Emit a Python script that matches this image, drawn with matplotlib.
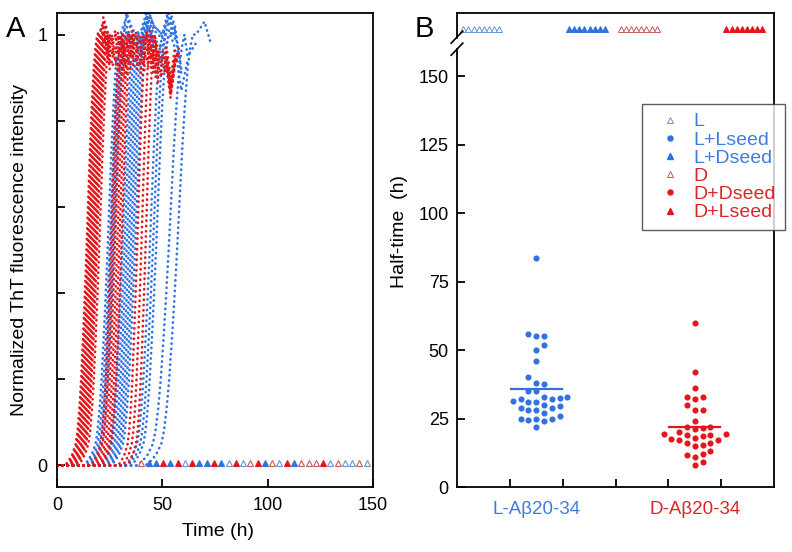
import numpy as np
import matplotlib
matplotlib.use('Agg')
import matplotlib.pyplot as plt
from matplotlib.lines import Line2D

plt.rcParams['font.family'] = ['Liberation Sans', 'DejaVu Sans']

BLUE = '#2f72e0'
RED = '#e3161c'
BLUE_OPEN = '#6b93d6'
RED_OPEN = '#c65b5b'
BLUE_TXT = '#3d7ddf'
RED_TXT = '#d9262b'

# ---------------- Panel A data ----------------
# shared aggregation profile: relative time (in units of curve width) vs fraction
profile_rel = [-6.0, -5.0, -4.0, -3.0, -2.5, -2.0, -1.5, -1.0, -0.5, 0.0, 0.5, 1.0, 1.5, 2.0, 2.5, 3.0]
profile_frac = [0.0, 0.01, 0.025, 0.05, 0.08, 0.13, 0.2, 0.29, 0.39, 0.5, 0.62, 0.74, 0.84, 0.92, 0.97, 1.0]

red_halftimes = [14, 14.5, 15, 15.5, 16, 16.5, 17, 17.5, 18, 18.5, 19, 20,
                 25.5, 26.5, 27.5, 28.5, 29.5, 30.5, 38, 40, 42]
red_widths = [1.7, 1.7, 1.7, 1.7, 1.7, 1.7, 1.7, 1.7, 1.7, 1.7, 1.7, 1.7,
              1.6, 1.6, 1.6, 1.6, 1.6, 1.6, 1.5, 1.5, 1.5]
red_ends = [50, 55, 45, 58, 52, 48, 56, 44, 53, 47, 57, 51,
            46, 54, 49, 58, 52, 56, 55, 57, 58]
red_shift = [0.0, -0.02, 0.01, -0.04, -0.01, 0.02, -0.03, 0.0, -0.05, 0.01, -0.02, -0.06,
             0.0, -0.03, 0.01, -0.04, -0.01, -0.02, -0.05, 0.0, -0.03]
red_plateau_t = [22, 25, 28, 32, 36, 40, 44, 48, 52, 54, 56, 58]
red_plateau_y = [1.02, 0.97, 0.99, 0.96, 0.99, 0.97, 0.99, 0.95, 0.97, 0.9, 0.97, 1.0]

blue_halftimes = [24, 25, 26, 27, 31, 32, 33, 34, 35, 36, 37, 44, 45.5, 47, 53, 57]
blue_widths = [1.9, 1.9, 1.9, 1.9, 1.9, 1.9, 1.9, 1.9, 1.9, 1.9, 1.9, 2.0, 2.0, 2.0, 2.5, 2.5]
blue_ends = [40, 48, 44, 52, 50, 56, 46, 54, 58, 52, 60, 56, 62, 60, 66, 73]
blue_shift = [0.0, -0.02, 0.01, -0.03, 0.02, -0.01, 0.0, -0.04, 0.01, -0.02, 0.02,
              0.0, -0.03, 0.01, -0.02, 0.0]
blue_plateau_t = [30, 33, 36, 40, 43, 46, 50, 53, 56, 59, 62, 66, 70, 73]
blue_plateau_y = [1.0, 1.04, 1.0, 0.99, 1.04, 1.0, 0.98, 1.04, 1.0, 0.9, 0.97, 1.0, 1.03, 0.98]

# wells without aggregation within 150 h (order along the time axis)
no_agg_order = ['Do', 'LD', 'LD', 'DL', 'LD', 'DL', 'Lo', 'DL', 'LD', 'LD', 'DL', 'LD',
                'Lo', 'DL', 'Lo', 'Do', 'DL', 'LD', 'Do', 'Lo', 'DL', 'LD', 'Do', 'Do',
                'Do', 'DL', 'Lo', 'Do', 'Lo', 'Lo', 'Do', 'Lo']

# ---------------- Panel B data ----------------
categories = ['L-A\u03b220-34', 'D-A\u03b220-34']
L_Lseed_halftimes = [83.5, 56, 55, 55, 52, 50, 46, 40, 38, 37.5, 35, 35, 33, 33, 32.5, 32, 32,
                     31.5, 31, 31, 30, 29.5, 29, 29, 28, 28, 27, 26, 25, 25, 25, 24.5, 24, 22]
D_Dseed_halftimes = [60, 42, 36, 33, 33, 32, 30, 28, 28, 24, 22, 22, 21.5, 21, 20, 19.5, 19.5,
                     19, 19, 18.5, 18, 17.5, 17, 17, 16, 16, 15.5, 15, 13, 12, 11.5, 11, 9, 8]
n_no_agg = {'L': 8, 'L+Dseed': 8, 'D': 8, 'D+Lseed': 8}
NA_LEVEL = 167  # plotted above the axis break ("no aggregation")

styles = {
    'Lo': dict(mfc='white', mec=BLUE_OPEN),
    'LD': dict(mfc=BLUE, mec=BLUE),
    'Do': dict(mfc='white', mec=RED_OPEN),
    'DL': dict(mfc=RED, mec=RED),
}

W, H = 792, 552
fig = plt.figure(figsize=(W / 100, H / 100), dpi=100)


def fr(x0, y0, x1, y1):
    return [x0 / W, 1 - y1 / H, (x1 - x0) / W, (y1 - y0) / H]


axA = fig.add_axes(fr(57, 13, 373, 487))
axB = fig.add_axes(fr(457, 13, 774, 487))


def draw_curves(ax, halftimes, widths, ends, shifts, pt, py, color):
    for th, w, te, sh in zip(halftimes, widths, ends, shifts):
        xs = [0.0] + [th + w * r for r in profile_rel]
        ys = [0.0] + list(profile_frac)
        for t, y in zip(pt, py):
            if t > xs[-1] and t <= te:
                xs.append(t)
                ys.append(y + sh)
        ax.plot(xs, ys, color=color, lw=1.9, ls=(0, (0.1, 1.9)),
                dash_capstyle='round', solid_capstyle='round')


draw_curves(axA, blue_halftimes, blue_widths, blue_ends, blue_shift, blue_plateau_t, blue_plateau_y, BLUE)
draw_curves(axA, red_halftimes, red_widths, red_ends, red_shift, red_plateau_t, red_plateau_y, RED)

t_na = np.linspace(40, 147, len(no_agg_order))
for t, code in zip(t_na, no_agg_order):
    st = styles[code]
    axA.plot([t], [0.005], ls='none', marker='^', ms=5, mfc=st['mfc'], mec=st['mec'], mew=0.8)

axA.set_xlim(0, 150)
axA.set_ylim(-0.05, 1.05)
axA.set_xticks([0, 50, 100, 150])
axA.set_yticks([0, 0.2, 0.4, 0.6, 0.8, 1.0])
axA.set_yticklabels(['0', '', '', '', '', '1'])
axA.tick_params(axis='x', direction='in', length=6, width=1.3, labelsize=13, pad=7)
axA.tick_params(axis='y', direction='in', length=6, width=1.3, labelsize=13, pad=7)


# ---- Panel B ----
def swarm(values, step_px, diam_px, xppu, yppu):
    vals = np.asarray(values, float)
    offs = np.zeros(len(vals))
    placed = []
    cands = [0] + [s * j for j in range(1, 20) for s in (1, -1)]
    for i in np.argsort(vals):
        y = vals[i] * yppu
        x = 0.0
        for c in cands:
            x = c * step_px
            if all((x - px) ** 2 + (y - py) ** 2 >= diam_px ** 2 for px, py in placed):
                break
        placed.append((x, y))
        offs[i] = x / xppu
    return offs


xppu = 317 / 6.0
yppu = 474 / 173.0
centers = [1.5, 4.5]
for vals, c, col in [(L_Lseed_halftimes, centers[0], BLUE), (D_Dseed_halftimes, centers[1], RED)]:
    offs = swarm(vals, 7.8, 7.0, xppu, yppu)
    axB.plot(c + offs, vals, ls='none', marker='o', ms=4.4, mfc=col, mec=col, mew=0)
    m = np.mean(vals)
    axB.plot([c - 0.48, c + 0.48], [m, m], color=col, lw=1.6)

# no-aggregation wells above the break
na_groups = [('L', 'Lo', 0.12), ('L+Dseed', 'LD', 2.12), ('D', 'Do', 3.1), ('D+Lseed', 'DL', 5.1)]
for name, code, start in na_groups:
    n = n_no_agg[name]
    xs = start + np.arange(n) * 0.097
    st = styles[code]
    axB.plot(xs, [NA_LEVEL] * n, ls='none', marker='^', ms=4.2, mfc=st['mfc'], mec=st['mec'], mew=0.7)

axB.set_xlim(0, 6)
axB.set_ylim(0, 173)
axB.set_yticks([0, 25, 50, 75, 100, 125, 150])
axB.set_xticks([1, 2, 3, 4, 5])
axB.set_xticklabels([])
axB.tick_params(axis='both', direction='in', length=6, width=1.3, labelsize=13, pad=6)
for c, lab, col in zip(centers, categories, [BLUE_TXT, RED_TXT]):
    axB.text(c, -(510 - 487) / 474, lab, color=col, fontsize=13.5, ha='center', va='center',
             transform=axB.get_xaxis_transform(), clip_on=False)

# axis break marks
yb = 162
for dy in (-2.2, 2.2):
    axB.plot([-0.11, 0.11], [yb + dy - 2.2, yb + dy + 2.2], color='black', lw=1.2, clip_on=False, zorder=5)
axB.plot([0, 0], [yb - 1.2, yb + 1.2], color='white', lw=2.5, clip_on=False, zorder=4)

for ax in (axA, axB):
    for s in ax.spines.values():
        s.set_linewidth(1.3)

# legend
handles = [
    Line2D([], [], ls='none', marker='^', ms=4, mfc='white', mec=BLUE_OPEN, mew=0.7),
    Line2D([], [], ls='none', marker='o', ms=3.6, mfc=BLUE, mec=BLUE),
    Line2D([], [], ls='none', marker='^', ms=4, mfc=BLUE, mec=BLUE),
    Line2D([], [], ls='none', marker='^', ms=4, mfc='white', mec=RED_OPEN, mew=0.7),
    Line2D([], [], ls='none', marker='o', ms=3.6, mfc=RED, mec=RED),
    Line2D([], [], ls='none', marker='^', ms=4, mfc=RED, mec=RED),
]
labels = ['L', 'L+Lseed', 'L+Dseed', 'D', 'D+Dseed', 'D+Lseed']
leg = fig.legend(handles, labels, loc='upper left', bbox_to_anchor=(642 / W, 1 - 104 / H),
                 bbox_transform=fig.transFigure, fontsize=14, frameon=True, fancybox=False,
                 edgecolor='#333333', borderpad=0.45, labelspacing=0.03, handlelength=1.95,
                 handletextpad=0.25, borderaxespad=0,
                 labelcolor=[BLUE_TXT, BLUE_TXT, BLUE_TXT, RED_TXT, RED_TXT, RED_TXT])
leg.get_frame().set_linewidth(1.0)

# labels
fig.text(20 / W, 1 - 250 / H, 'Normalized ThT fluorescence intensity', rotation=90,
         ha='center', va='center', fontsize=14)
fig.text(218 / W, 1 - 531 / H, 'Time (h)', ha='center', va='center', fontsize=14)
fig.text(399 / W, 1 - 232 / H, 'Half-time  (h)', rotation=90, ha='center', va='center', fontsize=14)
fig.text(6 / W, 1 - 37 / H, 'A', fontsize=21, va='baseline', ha='left')
fig.text(415 / W, 1 - 37 / H, 'B', fontsize=21, va='baseline', ha='left')

fig.savefig('out.png', dpi=100)
